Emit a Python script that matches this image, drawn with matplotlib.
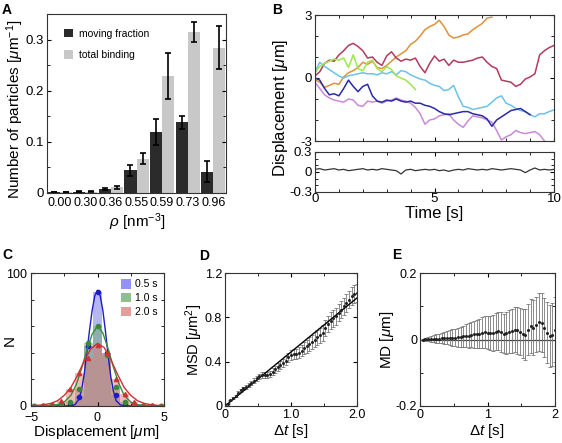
import numpy as np
import matplotlib
matplotlib.use("Agg")
import matplotlib.pyplot as plt
from matplotlib.ticker import MultipleLocator
from matplotlib.patches import Patch

plt.rcParams["font.family"] = ["Liberation Sans", "DejaVu Sans"]
plt.rcParams["mathtext.fontset"] = "custom"
plt.rcParams["mathtext.rm"] = "Liberation Sans"
plt.rcParams["mathtext.it"] = "Liberation Sans:italic"
plt.rcParams["xtick.direction"] = "in"
plt.rcParams["ytick.direction"] = "in"
plt.rcParams["xtick.top"] = True
plt.rcParams["ytick.right"] = True
plt.rcParams["xtick.major.pad"] = 2
plt.rcParams["ytick.major.pad"] = 2
plt.rcParams["xtick.major.size"] = 3
plt.rcParams["ytick.major.size"] = 3
plt.rcParams["xtick.minor.size"] = 2
plt.rcParams["ytick.minor.size"] = 2
plt.rcParams["axes.linewidth"] = 0.8
plt.rcParams["axes.edgecolor"] = "#333333"

# ---- panel A data
rho_labels = ["0.00", "0.30", "0.36", "0.55", "0.59", "0.73", "0.96"]
moving = [0.001, 0.002, 0.008, 0.044, 0.119, 0.138, 0.042]
moving_err = [0.0, 0.001, 0.002, 0.010, 0.025, 0.013, 0.021]
total = [0.001, 0.002, 0.011, 0.067, 0.229, 0.315, 0.284]
total_err = [0.0, 0.001, 0.003, 0.011, 0.045, 0.019, 0.042]

# ---- panel B data (sampled every 0.2 s)
dt_b = 0.2
tr_orange = [-0.1, -0.2, -0.45, -0.35, -0.25, -0.3, 0.05, 0.25, 0.35, 0.5, 0.75, 0.65, 0.8,
             0.5, 0.45, 0.6, 0.8, 1.0, 1.15, 1.3, 1.6, 1.75, 2.0, 2.3, 2.45, 2.55, 2.75, 2.45,
             2.05, 1.9, 1.95, 2.05, 2.1, 2.3, 2.45, 2.6, 2.85, 2.9]
tr_crimson = [0.1, 0.3, 0.7, 0.85, 0.8, 1.1, 1.3, 1.55, 1.65, 1.5, 1.3, 0.95, 1.0, 0.75, 0.6,
              1.05, 1.25, 0.95, 0.8, 0.9, 0.85, 0.95, 0.55, 0.25, 0.7, 1.05, 0.8, 0.9, 0.6, 0.85,
              0.75, 0.75, 0.8, 0.85, 0.95, 1.0, 0.75, 0.55, 0.45, -0.1, -0.15, -0.2, -0.4, -0.3,
              -0.05, 0.05, 0.2, 1.1, 1.3, 1.45, 1.55]
tr_green = [0.25, 0.55, 0.7, 0.8, 0.9, 0.85, 0.95, 0.5, 1.1, 0.45, 0.35, 0.75, 0.85, 0.45,
            0.3, 0.55, 0.4, 0.1, 0.0, -0.1, -0.3, -0.55]
tr_cyan = [0.3, 0.75, 0.55, 0.4, 0.25, 0.1, 0.0, 0.1, 0.15, 0.2, 0.25, 0.2, 0.2, 0.15, 0.25,
           0.2, 0.3, 0.15, 0.35, 0.3, 0.15, 0.05, -0.05, -0.1, -0.25, -0.35, -0.4, -0.6, -0.55,
           -0.35, -0.9, -1.35, -1.4, -1.5, -1.45, -1.4, -1.35, -1.15, -0.95, -0.85, -1.2, -1.3,
           -1.45, -1.55, -1.6, -1.75, -1.85, -1.7, -1.7, -1.6, -1.52]
tr_navy = [0.0, -0.1, -0.5, -0.8, -0.75, -0.85, -0.5, -0.1, -0.4, -0.65, -0.4, -0.3, -0.85,
           -1.1, -1.15, -1.05, -1.1, -1.0, -1.1, -1.15, -1.1, -1.2, -1.2, -1.3, -1.35, -1.45,
           -1.6, -1.7, -1.75, -1.7, -1.65, -1.6, -1.6, -1.7, -1.75, -1.8, -1.95, -2.3, -2.0,
           -1.85, -1.7, -1.55, -1.5, -1.45, -1.6, -1.75]
tr_purple = [-0.2, -0.5, -0.8, -0.95, -1.05, -1.1, -1.15, -1.0, -1.05, -1.3, -1.35, -1.1,
             -1.15, -1.1, -1.2, -1.1, -1.05, -0.95, -1.05, -1.1, -1.2, -1.4, -1.7, -2.2, -2.0,
             -1.95, -1.8, -1.75, -1.7, -2.0, -2.2, -2.35, -2.05, -1.8, -1.85, -1.9, -2.0, -2.1,
             -2.5, -2.95, -2.8, -2.7, -2.5, -2.6, -2.65, -2.6, -2.55, -2.7, -3.0]
tr_fixed = [0.04, 0.05, 0.03, 0.04, 0.05, 0.03, 0.04, 0.02, 0.03, 0.04, 0.05, 0.03, 0.04,
            0.03, 0.05, 0.04, 0.03, 0.02, -0.03, 0.03, 0.04, 0.02, 0.03, 0.04, 0.03, 0.04,
            0.02, 0.03, 0.01, 0.03, 0.04, 0.03, 0.05, 0.04, 0.03, 0.04, 0.03, 0.05, 0.04,
            0.03, 0.04, 0.05, 0.04, 0.03, -0.01, 0.03, 0.06, 0.03, 0.04, 0.03, 0.04]

# ---- panel C data
bin_centers = [-4.76, -4.08, -3.4, -2.72, -2.04, -1.36, -0.68, 0.0, 0.68, 1.36, 2.04, 2.72, 3.4, 4.08, 4.76]
hist_05 = [0, 0, 0, 0, 1, 7, 45, 86, 40, 8, 1, 0, 0, 0, 0]
hist_10 = [0, 0, 0.5, 1, 3, 13, 47, 60, 38, 14, 3, 1, 0, 0, 0]
hist_20 = [0, 0.5, 1, 4, 13, 25, 36, 46, 40, 20, 9, 3, 1, 0.5, 0]
fit_x05 = [-5, -2.0, -1.7, -1.4, -1.2, -1.0, -0.8, -0.6, -0.4, -0.2, 0.0, 0.2, 0.4, 0.6, 0.8, 1.0, 1.2, 1.4, 1.7, 2.0, 5]
fit_y05 = [0, 0, 1, 5, 12, 24, 40, 57, 72, 83, 87, 83, 72, 56, 38, 22, 11, 4, 1, 0, 0]
fit_x10 = [-5, -3.5, -3.0, -2.5, -2.0, -1.6, -1.2, -0.8, -0.4, 0.0, 0.4, 0.8, 1.2, 1.6, 2.0, 2.5, 3.0, 3.5, 5]
fit_y10 = [0, 0.5, 1, 3, 8, 16, 28, 42, 54, 60, 55, 43, 29, 17, 8, 3, 1, 0.5, 0]
fit_x20 = [-5, -4.0, -3.5, -3.0, -2.5, -2.0, -1.5, -1.0, -0.5, 0.0, 0.5, 1.0, 1.5, 2.0, 2.5, 3.0, 3.5, 4.0, 5]
fit_y20 = [0, 1, 2, 4, 8, 14, 23, 34, 43, 47, 44, 35, 24, 14, 8, 4, 2, 1, 0]

# ---- panel D / E data (lag step 0.04 s)
lag_step = 0.04
msd = [0.02, 0.05, 0.07, 0.09, 0.12, 0.14, 0.16, 0.17, 0.19, 0.21, 0.23, 0.25, 0.27, 0.28,
       0.28, 0.28, 0.29, 0.31, 0.33, 0.35, 0.37, 0.39, 0.41, 0.44, 0.46, 0.47, 0.47, 0.48,
       0.50, 0.52, 0.54, 0.56, 0.58, 0.60, 0.62, 0.64, 0.66, 0.70, 0.74, 0.77, 0.79, 0.81,
       0.84, 0.87, 0.90, 0.93, 0.96, 0.99, 1.01, 1.02]
msd_err = [0.005, 0.006, 0.008, 0.010, 0.012, 0.013, 0.015, 0.016, 0.017, 0.018, 0.020,
           0.021, 0.022, 0.024, 0.025, 0.027, 0.028, 0.030, 0.032, 0.034, 0.036, 0.038,
           0.040, 0.042, 0.044, 0.046, 0.048, 0.050, 0.052, 0.055, 0.058, 0.060, 0.062,
           0.064, 0.066, 0.068, 0.070, 0.072, 0.073, 0.074, 0.075, 0.076, 0.077, 0.078,
           0.078, 0.079, 0.080, 0.080, 0.080, 0.080]
msd_fit_t = [0.0, 2.0]
msd_fit = [0.0, 0.975]
md = [0.000, 0.001, 0.001, 0.002, 0.002, 0.003, 0.003, 0.004, 0.004, 0.005, 0.005, 0.006,
      0.006, 0.007, 0.008, 0.010, 0.011, 0.012, 0.014, 0.016, 0.017, 0.018, 0.020, 0.022,
      0.021, 0.019, 0.020, 0.024, 0.026, 0.022, 0.018, 0.020, 0.023, 0.026, 0.030, 0.028,
      0.024, 0.018, 0.015, 0.030, 0.040, 0.035, 0.045, 0.052, 0.050, 0.035, 0.020, 0.010,
      0.015, 0.030]
md_err = [0.003, 0.005, 0.007, 0.009, 0.011, 0.013, 0.015, 0.016, 0.019, 0.020, 0.023,
          0.025, 0.026, 0.029, 0.031, 0.032, 0.035, 0.037, 0.038, 0.041, 0.043, 0.044,
          0.047, 0.049, 0.050, 0.052, 0.054, 0.055, 0.058, 0.060, 0.060, 0.063, 0.065,
          0.066, 0.069, 0.071, 0.072, 0.075, 0.077, 0.078, 0.081, 0.083, 0.084, 0.087,
          0.089, 0.089, 0.092, 0.094, 0.095, 0.098]

W, H = 562, 443
fig = plt.figure(figsize=(W / 100, H / 100), dpi=100)


def box(l, t, r, b):
    return [l / W, 1 - b / H, (r - l) / W, (b - t) / H]


def ylab(text, px, py, fs):
    fig.text(px / W, 1 - py / H, text, rotation=90, fontsize=fs, ha="center", va="center")


def xlab(text, px, py, fs):
    fig.text(px / W, 1 - py / H, text, fontsize=fs, ha="center", va="center")


tick_fs = 9.5
lab_fs = 11

# ---------------- A
axA = fig.add_axes(box(47, 14, 226, 193))
x = np.arange(len(rho_labels))
bw = 0.47
ek = dict(ecolor="black", elinewidth=1.2, capsize=2, capthick=1.2)
axA.bar(x - bw / 2, moving, bw, yerr=moving_err, color="#2b2b2b", label="moving fraction", error_kw=ek)
axA.bar(x + bw / 2, total, bw, yerr=total_err, color="#c8c8c8", label="total binding", error_kw=ek)
axA.set_xlim(-0.5, 6.5)
axA.set_ylim(0, 0.35)
axA.set_xticks(x)
axA.set_xticklabels(rho_labels)
axA.set_yticks([0, 0.1, 0.2, 0.3])
axA.set_yticklabels(["0", "0.1", "0.2", "0.3"])
axA.yaxis.set_minor_locator(MultipleLocator(0.05))
axA.tick_params(axis="x", length=0, labelsize=tick_fs - 0.5, pad=3)
axA.tick_params(axis="y", labelsize=tick_fs)
ylab(r"Number of particles [$\mu$m$^{-1}$]", 15, 109, lab_fs)
xlab(r"$\rho$ [nm$^{-3}$]", 137, 222, lab_fs)
axA.legend(loc="upper left", bbox_to_anchor=(0.04, 0.97), frameon=False, fontsize=7.5,
           handlelength=0.9, handleheight=0.9, handletextpad=0.6, labelspacing=1.1)

# ---------------- B
axB = fig.add_axes(box(315, 15, 554, 141))
traces = [(tr_orange, "#e0913a"), (tr_crimson, "#b23a5c"), (tr_cyan, "#6cc2e8"),
          (tr_purple, "#c88ad8"), (tr_navy, "#2a2aa8"), (tr_green, "#9be84a")]
for tr, col in traces:
    axB.plot(np.arange(len(tr)) * dt_b, tr, color=col, lw=1.1)
axB.set_xlim(0, 10)
axB.set_ylim(-3, 3)
axB.set_yticks([-3, 0, 3])
axB.set_yticklabels(["-3", "0", "3"])
axB.yaxis.set_minor_locator(MultipleLocator(1))
axB.xaxis.set_major_locator(MultipleLocator(5))
axB.xaxis.set_minor_locator(MultipleLocator(1))
axB.tick_params(labelbottom=False, labelsize=tick_fs)

axB2 = fig.add_axes(box(315, 152, 554, 192))
axB2.plot(np.arange(len(tr_fixed)) * dt_b, tr_fixed, color="#333333", lw=0.9)
axB2.set_xlim(0, 10)
axB2.set_ylim(-0.3, 0.3)
axB2.set_yticks([-0.3, 0, 0.3])
axB2.set_yticklabels(["-0.3", "0", "0.3"])
axB2.yaxis.set_minor_locator(MultipleLocator(0.1))
axB2.set_xticks([0, 5, 10])
axB2.xaxis.set_minor_locator(MultipleLocator(1))
axB2.tick_params(labelsize=tick_fs)
axB2.tick_params(axis="x", pad=1)
xlab("Time [s]", 434, 214, lab_fs + 1)
ylab(r"Displacement [$\mu$m]", 281, 108, lab_fs + 1)

# ---------------- C
axC = fig.add_axes(box(31, 273, 164, 406))
cols_bar = ["#6f6ff0", "#6aa86a", "#e07a7a"]
cols_line = ["#1c1cc8", "#3a8a3a", "#cc3333"]
hists = [hist_05, hist_10, hist_20]
fits = [(fit_x05, fit_y05), (fit_x10, fit_y10), (fit_x20, fit_y20)]
markers = ["o", "o", "^"]
labels_c = ["0.5 s", "1.0 s", "2.0 s"]
for h, cb in zip(hists, cols_bar):
    axC.bar(bin_centers, h, width=0.68, color=cb, alpha=0.5, edgecolor="none")
for (fx, fy), h, cl, mk in zip(fits, hists, cols_line, markers):
    axC.plot(fx, fy, color=cl, lw=1.0)
    axC.plot(bin_centers, h, mk, color=cl, ms=3, ls="none")
axC.set_xlim(-5, 5)
axC.set_ylim(0, 100)
axC.set_xticks([-5, 0, 5])
axC.set_yticks([0, 100])
axC.yaxis.set_minor_locator(MultipleLocator(20))
axC.xaxis.set_minor_locator(MultipleLocator(2.5))
axC.tick_params(labelsize=tick_fs - 0.5)
axC.tick_params(axis="x", pad=4)
axC.tick_params(axis="y", pad=3)
xlab(r"Displacement [$\mu$m]", 97, 432, lab_fs)
ylab("N", 9.5, 340, lab_fs)
handles = [Patch(facecolor=c, alpha=0.75, edgecolor="none") for c in cols_bar]
axC.legend(handles, labels_c, loc="upper right", frameon=False, fontsize=7.5,
           handlelength=1.0, handleheight=1.0, handletextpad=0.4, labelspacing=0.35,
           borderaxespad=0.2)

# ---------------- D
axD = fig.add_axes(box(225, 273, 357, 406))
lags = (np.arange(len(msd)) + 1) * lag_step
axD.errorbar(lags, msd, yerr=msd_err, fmt="o", ms=1.2, color="#222222", ecolor="#777777",
             elinewidth=0.6, capsize=1.2, capthick=0.6)
axD.plot(msd_fit_t, msd_fit, color="black", lw=1.0)
axD.set_xlim(0, 2)
axD.set_ylim(0, 1.2)
axD.set_xticks([0, 1, 2])
axD.set_xticklabels(["0", "1.0", "2.0"])
axD.set_yticks([0, 0.4, 0.8, 1.2])
axD.set_yticklabels(["0", "0.4", "0.8", "1.2"])
axD.xaxis.set_minor_locator(MultipleLocator(0.5))
axD.tick_params(labelsize=tick_fs - 0.5)
xlab(r"$\Delta t$ [s]", 291, 431, lab_fs)
ylab(r"MSD [$\mu$m$^2$]", 194, 340, lab_fs - 0.5)

# ---------------- E
axE = fig.add_axes(box(420, 273, 555, 406))
lags_e = (np.arange(len(md)) + 1) * lag_step
axE.axhline(0, color="#444444", lw=0.9)
axE.errorbar(lags_e, md, yerr=md_err, fmt="o", ms=1.2, color="#222222", ecolor="#777777",
             elinewidth=0.6, capsize=1.2, capthick=0.6)
axE.set_xlim(0, 2)
axE.set_ylim(-0.2, 0.2)
axE.set_xticks([0, 1, 2])
axE.set_yticks([-0.2, 0, 0.2])
axE.set_yticklabels(["-0.2", "0", "0.2"])
axE.xaxis.set_minor_locator(MultipleLocator(0.5))
axE.yaxis.set_minor_locator(MultipleLocator(0.1))
axE.tick_params(labelsize=tick_fs - 0.5)
xlab(r"$\mathit{\Delta t}$ [s]", 487, 431, lab_fs)
ylab(r"MD [$\mu$m]", 387, 340, lab_fs)

for lab, px, py in [("A", 2, 3), ("B", 272, 3), ("C", 2, 248), ("D", 199, 249), ("E", 392, 248)]:
    fig.text(px / W, 1 - py / H, lab, fontsize=10, fontweight="bold", ha="left", va="top")

fig.savefig("out.png", dpi=100)
